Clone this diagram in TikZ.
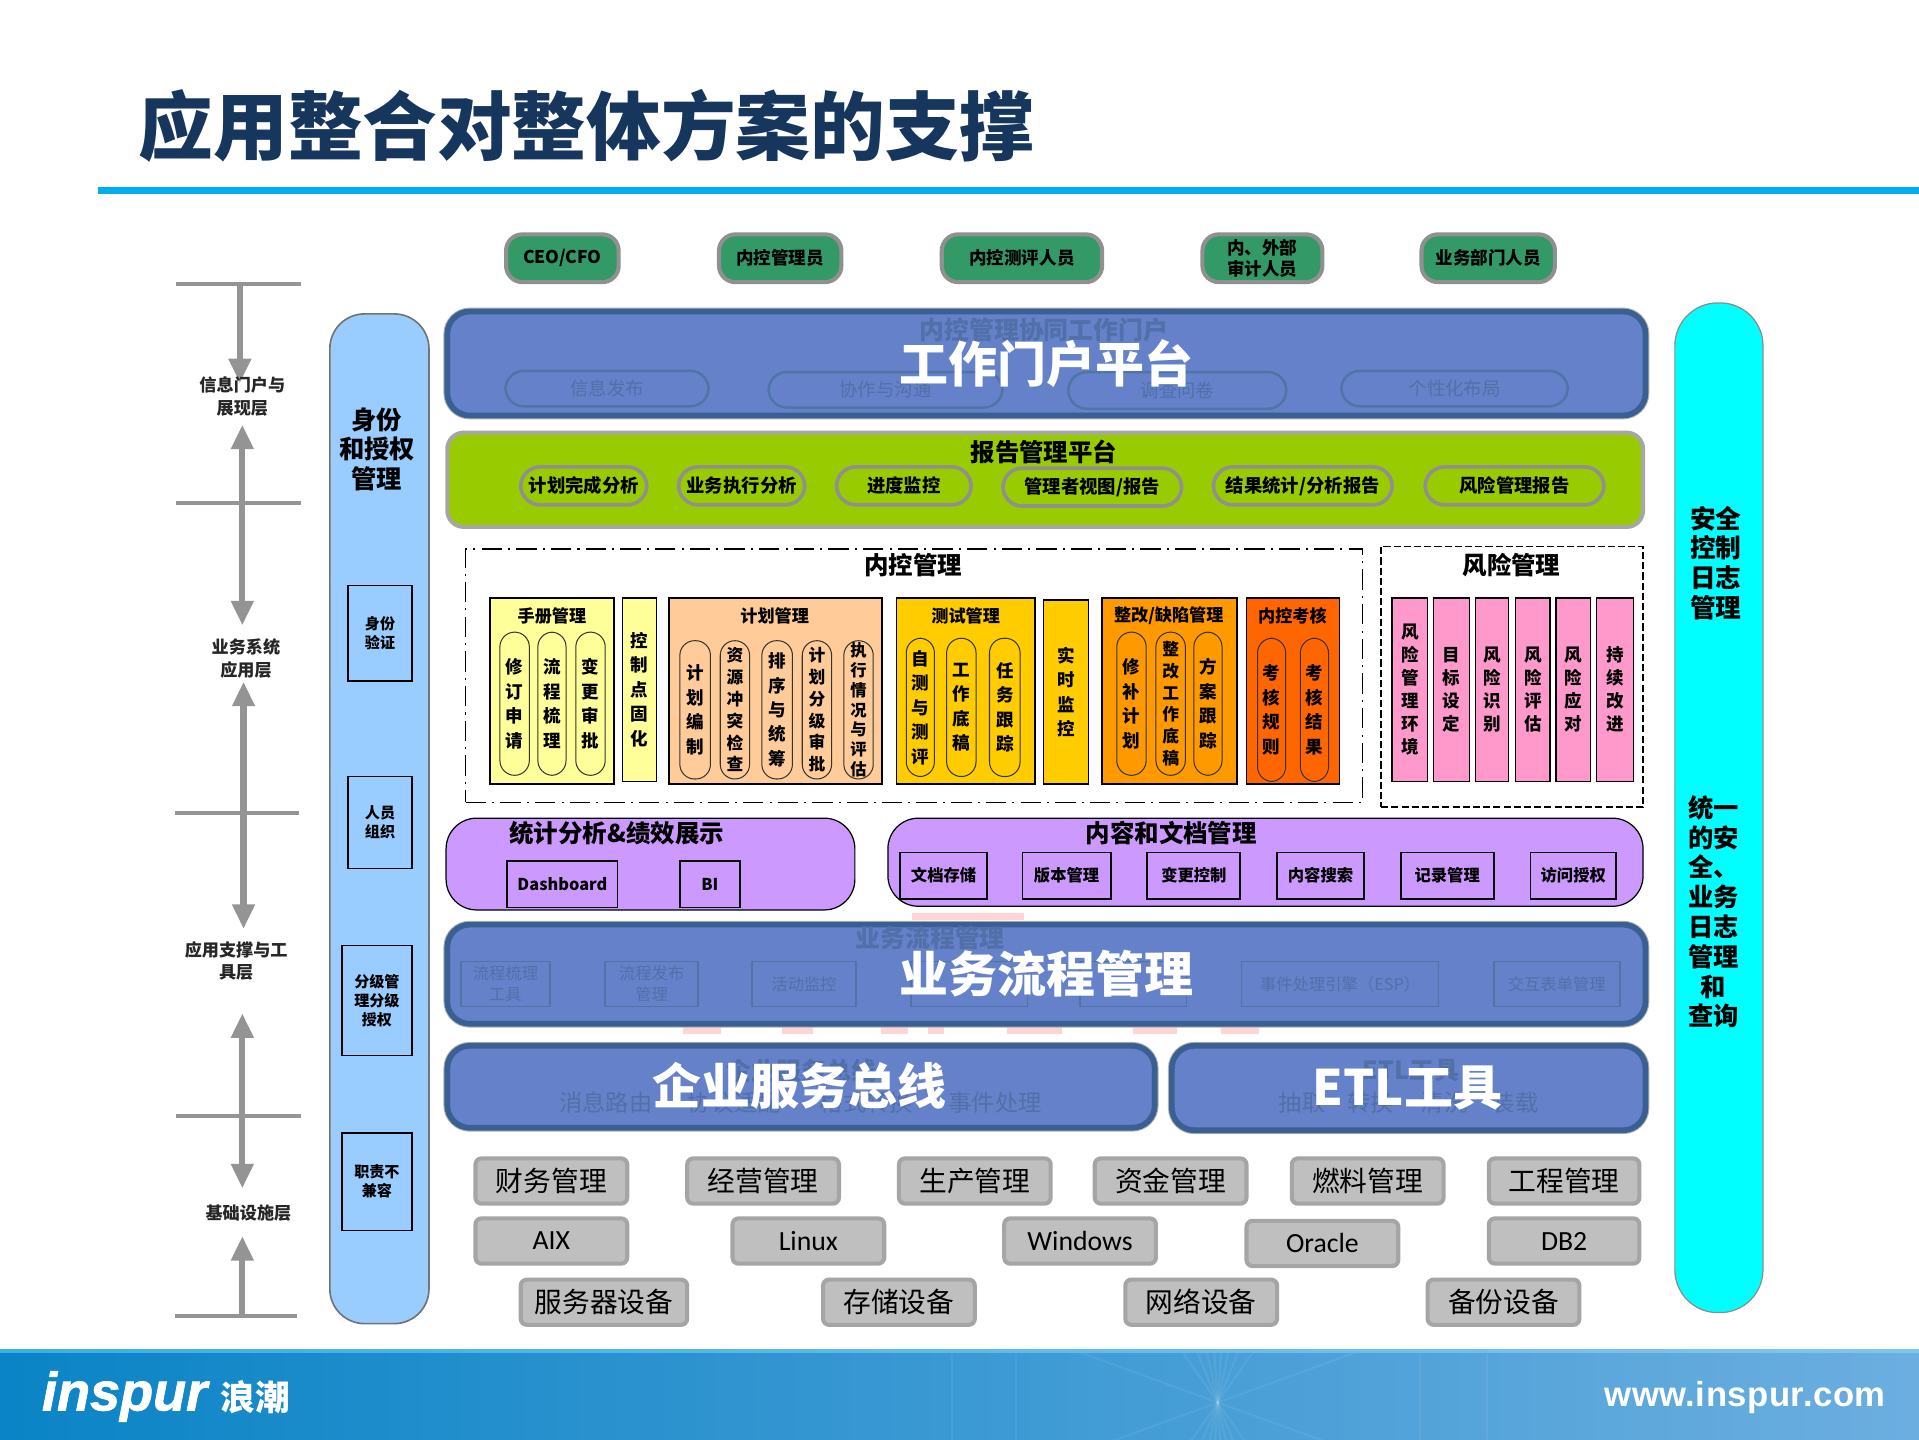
\documentclass[tikz,border=0pt]{standalone}
\usepackage{fontspec}
\setmainfont{Noto Sans CJK SC}
\newfontfamily\carl{Carlito}
\newfontfamily\libs{Liberation Sans}
\newfontfamily\logof[FakeBold=1.4]{Liberation Sans Bold Italic}
\usetikzlibrary{arrows.meta}
\definecolor{navy}{HTML}{17365D}
\definecolor{rule}{HTML}{00AEEF}
\definecolor{bluef}{HTML}{6581C9}
\definecolor{blued}{HTML}{3A5F92}
\definecolor{faint}{HTML}{5170AA}
\definecolor{fainte}{HTML}{4F74A6}
\definecolor{ring}{HTML}{909090}
\definecolor{scaleg}{HTML}{949494}
\definecolor{btn}{HTML}{BFBFBF}
\definecolor{btne}{HTML}{A5A5A5}
\definecolor{actor}{HTML}{339966}
\definecolor{lime}{HTML}{99CC00}
\definecolor{ylw}{HTML}{FFFF99}
\definecolor{peach}{HTML}{FFCC99}
\definecolor{gold}{HTML}{FFCC00}
\definecolor{org}{HTML}{FF9900}
\definecolor{dorg}{HTML}{FF6600}
\definecolor{pnk}{HTML}{FF99CC}
\definecolor{lilac}{HTML}{CC99FF}
\definecolor{skyb}{HTML}{99CCFF}
\definecolor{cyn}{HTML}{00FFFF}
\definecolor{ghost}{HTML}{FFD4D4}
\newcommand{\fs}[2]{\fontsize{#1}{#2}\selectfont}
% \bx[inset]{style}{name}{x0}{y0}{x1}{y1}{text}
\newcommand{\bx}[7][2]{%
  \pgfmathsetmacro\bw{(#5-#3-#1)*0.6}%
  \pgfmathsetmacro\bh{(#6-#4-#1)*0.6}%
  \node[#2,minimum width=\bw pt,minimum height=\bh pt] (#7) at ({(#3+#5)/2},{(#4+#6)/2})}
\tikzset{
  x=0.6pt,y=-0.6pt,
  box/.style={rectangle,inner sep=0pt,align=center},
  actorbox/.style={box,fill=actor,draw=ring,line width=2pt,rounded corners=8pt,font=\bfseries\fs{8.6}{10.6}},
  bigpanel/.style={box,fill=bluef,draw=blued,line width=2.8pt,rounded corners=11pt,
     preaction={draw=ring!70,line width=3.8pt}},
  bigtext/.style={box,text=white,font=\bfseries\fs{24}{28}},
  faintpill/.style={box,draw=fainte,line width=1.2pt,rounded corners=9pt,text=faint,font=\fs{9}{11}},
  faintbox/.style={box,draw=fainte,line width=.8pt,text=faint,font=\fs{8}{10.5}},
  fainttext/.style={box,text=faint,font=\bfseries\fs{12.2}{14}},
  faintlow/.style={box,text=faint,font=\fs{11.4}{14}},
  green panel/.style={box,fill=lime,draw=ring!80,line width=2pt,rounded corners=8pt},
  reppill/.style={box,fill=lime,draw=ring,line width=1.8pt,rounded corners=9.5pt,font=\bfseries\fs{9}{11}},
  boldtitle/.style={box,font=\bfseries\fs{12}{14}},
  dashdot/.style={box,draw=black,line width=.7pt,dash pattern=on 10pt off 3pt on 1pt off 3pt},
  dashbox/.style={box,draw=black,line width=.7pt,dash pattern=on 3.5pt off 1.5pt},
  col/.style={box,draw=black,line width=.8pt,anchor=center},
  stacktxt/.style={font=\bfseries\fs{8.6}{12}},
  subtitle/.style={box,font=\bfseries\fs{8.4}{10}},
  pill/.style={box,draw=black!80,line width=.5pt,rounded corners=7.2pt,stacktxt},
  pillsix/.style={pill,font=\bfseries\fs{8.2}{10.7}},
  pillseven/.style={pill,font=\bfseries\fs{8}{9.7}},
  pinkcol/.style={box,fill=pnk,draw=black,line width=.7pt,font=\bfseries\fs{8.6}{11.3}},
  purple/.style={box,fill=lilac,draw=black,line width=.6pt,rounded corners=15pt},
  pbox/.style={box,draw=black,line width=.9pt,font=\bfseries\fs{8}{10}},
  button/.style={box,fill=btn,draw=btne,line width=2pt,rounded corners=3pt,font=\fs{13.6}{16}},
  idbox/.style={box,draw=black,line width=.8pt,font=\bfseries\fs{7.4}{9.2}},
  sidetitle/.style={box,font=\bfseries\fs{12.4}{14.6}},
  tick/.style={draw=scaleg,line width=2pt},
  scaleline/.style={draw=scaleg,line width=3pt},
  upd/.style={scaleline,-{Triangle[width=10.5pt,length=12pt]}},
  both/.style={scaleline,{Triangle[width=10.5pt,length=12pt]}-{Triangle[width=10.5pt,length=12pt]}},
  lvl/.style={box,text=black!85,font=\bfseries\fs{8.4}{11}},
}
\begin{document}
\begin{tikzpicture}
\useasboundingbox (0,0) rectangle (1568,1175.8);
\fill[white] (0,0) rectangle (1568,1175.8);
% title and rule
\node[box,anchor=west,text=navy,font=\bfseries\fs{36.6}{40}] (title) at (113,103) {应用整合对整体方案的支撑};
\fill[rule] (80,152.5) rectangle (1568,158.5);
% footer
\fill[left color={rgb,255:red,10;green,132;blue,198},middle color={rgb,255:red,26;green,154;blue,214},right color={rgb,255:red,108;green,174;blue,224}] (0,1103) rectangle (1568,1175.8);
\fill[left color={rgb,255:red,58;green,176;blue,232},right color={rgb,255:red,130;green,196;blue,240}] (0,1103) rectangle (1568,1105.5);
\begin{scope}
\clip (0,1106) rectangle (1568,1175.8);
\foreach \ang in {20,55,68,78,86,94,102,112,125,160,200,235,248,258,266,274,282,292,305,340}
  \draw[white,opacity=.07,line width=1pt] (995,1146) -- ++(\ang:190);
\foreach \vx in {778,830,1160,1215}
  \draw[white,opacity=.06,line width=.8pt] (\vx,1106) -- (\vx,1175.8);
\end{scope}
\node[box,anchor=west,text=white,font=\logof\fs{26.5}{30}] (logo) at (34,1141) {inspur};
\node[box,anchor=west,text=white,font=\bfseries\fs{17}{20}] (logocn) at (180,1142) {浪潮};
\node[box,anchor=east,text=white,font=\libs\bfseries\fs{17}{20}] (url) at (1541,1142) {\addfontfeature{LetterSpace=1.5}www.inspur.com};
% actors
\bx[3]{actorbox}{412}{190}{507}{232}{a1} {CEO/CFO};
\bx[3]{actorbox}{586}{190}{689}{232}{a2} {内控管理员};
\bx[3]{actorbox}{768}{190}{902}{232}{a3} {内控测评人员};
\bx[3]{actorbox}{981}{190}{1082}{232}{a4} {内、外部\\审计人员};
\bx[3]{actorbox}{1160}{190}{1272}{232}{a5} {业务部门人员};
% portal
\bx[5]{bigpanel}{363}{252}{1347}{342}{portal} {};
\node[fainttext] (portalt) at (853,270) {内控管理协同工作门户};
\bx[2]{faintpill}{412}{302}{580}{333}{fp1} {信息发布};
\bx[2]{faintpill}{627}{303}{820}{334}{fp2} {协作与沟通};
\bx[2]{faintpill}{872}{303}{1052}{335}{fp3} {调查问卷};
\bx[2]{faintpill}{1095}{302}{1282}{333}{fp4} {个性化布局};
\node[bigtext] (portalb) at (855,297) {工作门户平台};
% report
\bx[3]{green panel}{364}{352}{1344}{432}{report} {};
\node[boldtitle] (reportt) at (853,369) {报告管理平台};
\bx[3]{reppill}{424}{380}{530}{414}{r1} {计划完成分析};
\bx[3]{reppill}{553}{380}{659}{414}{r2} {业务执行分析};
\bx[3]{reppill}{682}{380}{795}{414}{r3} {进度监控};
\bx[3]{reppill}{818}{381}{967}{415}{r4} {管理者视图/报告};
\bx[3]{reppill}{990}{380}{1139}{414}{r5} {结果统计/分析报告};
\bx[3]{reppill}{1163}{380}{1312}{414}{r6} {风险管理报告};
% internal control
\bx[1]{dashdot}{380}{448}{1114}{656}{icbox} {};
\node[boldtitle] (ict) at (746,462) {内控管理};
\bx[1]{col,fill=ylw}{400}{488}{502}{641}{c1} {};
\node[subtitle] (c1t) at (451,503) {手册管理};
\bx[1]{pill}{408}{516}{433}{634}{c1a} {修\\订\\申\\请};
\bx[1]{pill}{439}{516}{463}{634}{c1b} {流\\程\\梳\\理};
\bx[1]{pill}{470}{516}{495}{634}{c1c} {变\\更\\审\\批};
\bx[1]{col,fill=ylw,stacktxt}{508}{488}{537}{639}{c2} {控\\制\\点\\固\\化};
\bx[1]{col,fill=peach}{546}{488}{721}{641}{c3} {};
\node[subtitle] (c3t) at (633,503) {计划管理};
\bx[1]{pill}{555}{523}{581}{637}{c3a} {计\\划\\编\\制};
\bx[1]{pillsix}{588}{523}{613}{637}{c3b} {资\\源\\冲\\突\\检\\查};
\bx[1]{pill}{622}{523}{648}{637}{c3c} {排\\序\\与\\统\\筹};
\bx[1]{pillsix}{655}{523}{680}{637}{c3d} {计\\划\\分\\级\\审\\批};
\bx[1]{pillseven}{689}{523}{714}{637}{c3e} {执\\行\\情\\况\\与\\评\\估};
\bx[1]{col,fill=gold}{732}{488}{846}{641}{c4} {};
\node[subtitle] (c4t) at (789,503) {测试管理};
\bx[1]{pill}{740}{521}{764}{635}{c4a} {自\\测\\与\\测\\评};
\bx[1]{pill}{773}{521}{798}{635}{c4b} {工\\作\\底\\稿};
\bx[1]{pill}{808}{521}{834}{635}{c4c} {任\\务\\跟\\踪};
\bx[1]{col,fill=gold,stacktxt}{852}{490}{890}{641}{c5} {实\\时\\监\\控};
\bx[1]{col,fill=org}{900}{488}{1011}{641}{c6} {};
\node[subtitle] (c6t) at (955,503) {整改/缺陷管理};
\bx[1]{pill}{912}{516}{937}{634}{c6a} {修\\补\\计\\划};
\bx[1]{pillsix}{944}{516}{969}{634}{c6b} {整\\改\\工\\作\\底\\稿};
\bx[1]{pill}{975}{516}{999}{634}{c6c} {方\\案\\跟\\踪};
\bx[1]{col,fill=dorg}{1018}{488}{1095}{641}{c7} {};
\node[subtitle] (c7t) at (1056,503) {内控考核};
\bx[1]{pill}{1027}{521}{1051}{639}{c7a} {考\\核\\规\\则};
\bx[1]{pill}{1062}{521}{1086}{639}{c7b} {考\\核\\结\\果};
% risk
\bx[1]{dashbox}{1128}{446}{1343}{660}{riskbox} {};
\node[boldtitle] (riskt) at (1235,462) {风险管理};
\bx[1]{pinkcol}{1137}{488}{1167}{639}{p1} {风\\险\\管\\理\\环\\境};
\bx[1]{pinkcol}{1171}{488}{1201}{639}{p2} {目\\标\\设\\定};
\bx[1]{pinkcol}{1205}{488}{1233}{639}{p3} {风\\险\\识\\别};
\bx[1]{pinkcol}{1238}{488}{1267}{639}{p4} {风\\险\\评\\估};
\bx[1]{pinkcol}{1271}{488}{1300}{639}{p5} {风\\险\\应\\对};
\bx[1]{pinkcol}{1304}{488}{1335}{639}{p6} {持\\续\\改\\进};
% purple
\bx[1]{purple}{364}{668}{699}{744}{st} {};
\node[boldtitle] (stt) at (504,681) {统计分析\&绩效展示};
\bx[1]{pbox}{414}{703}{505}{742}{db} {Dashboard};
\bx[1]{pbox}{555}{703}{605}{742}{bi} {BI};
\bx[1]{purple}{725}{668}{1343}{741}{cm} {};
\node[boldtitle] (cmt) at (957,681) {内容和文档管理};
\bx[1]{pbox}{735}{696}{807}{735}{d1} {文档存储};
\bx[1]{pbox}{835}{696}{908}{735}{d2} {版本管理};
\bx[1]{pbox}{937}{696}{1014}{735}{d3} {变更控制};
\bx[1]{pbox}{1043}{696}{1115}{735}{d4} {内容搜索};
\bx[1]{pbox}{1144}{696}{1221}{735}{d5} {记录管理};
\bx[1]{pbox}{1250}{696}{1321}{735}{d6} {访问授权};
% ghost marks behind business process panel
\fill[ghost] (745,746) rectangle (837,752);
\foreach \gx/\gy in {558/589,639/664,720/742,758/771,823/868,926/962,998/1029}
  \fill[ghost] (\gx,836) rectangle (\gy,844.5);
% business process
\bx[5]{bigpanel}{363}{753}{1347}{839}{bp} {};
\node[fainttext] (bpt) at (760,766) {业务流程管理};
\bx[1]{faintbox}{376}{785}{450}{823}{b1} {流程梳理\\工具};
\bx[1]{faintbox}{494}{785}{571}{823}{b2} {流程发布\\管理};
\bx[1]{faintbox}{614}{785}{700}{823}{b3} {活动监控};
\bx[1]{faintbox}{744}{785}{840}{823}{b4} {};
\bx[1]{faintbox}{882}{785}{970}{823}{b5} {};
\bx[1]{faintbox}{1014}{785}{1176}{823}{b6} {事件处理引擎（ESP）};
\bx[1]{faintbox}{1220}{785}{1324}{823}{b7} {交互表单管理};
\node[bigtext] (bpb) at (855,796) {业务流程管理};
% ESB, ETL
\bx[5]{bigpanel}{363}{852}{946}{924}{esb} {};
\node[fainttext] (esbt) at (655,875) {企业服务总线};
\node[faintlow] (e1) at (495,901) {消息路由};
\node[faintlow] (e2) at (600,901) {协议适配};
\node[faintlow] (e3) at (708,901) {格式转换};
\node[faintlow] (e4) at (813,901) {事件处理};
\node[bigtext] (esbb) at (653,887) {企业服务总线};
\bx[5]{bigpanel}{955}{852}{1347}{926}{etl} {};
\node[fainttext] (etlt) at (1153,875) {ETL工具};
\node[faintlow] (l1) at (1064,901) {抽取};
\node[faintlow] (l2) at (1120,901) {转换};
\node[faintlow] (l3) at (1180,901) {清洗};
\node[faintlow] (l4) at (1238,901) {装载};
\node[bigtext] (etlb) at (1150,889) {ETL工具};
% buttons
\bx[3]{button}{387}{945}{514}{985}{g1} {财务管理};
\bx[3]{button}{560}{945}{687}{985}{g2} {经营管理};
\bx[3]{button}{733}{945}{860}{985}{g3} {生产管理};
\bx[3]{button}{893}{945}{1020}{985}{g4} {资金管理};
\bx[3]{button}{1054}{945}{1181}{985}{g5} {燃料管理};
\bx[3]{button}{1215}{945}{1341}{985}{g6} {工程管理};
\bx[3]{button,font=\carl\fs{13.6}{16}}{387}{994}{514}{1034}{o1} {AIX};
\bx[3]{button,font=\carl\fs{13.6}{16}}{597}{994}{724}{1034}{o2} {Linux};
\bx[3]{button,font=\carl\fs{13.6}{16}}{819}{994}{946}{1034}{o3} {Windows};
\bx[3]{button,font=\carl\fs{13.6}{16}}{1017}{996}{1144}{1036}{o4} {Oracle};
\bx[3]{button,font=\carl\fs{13.6}{16}}{1215}{994}{1341}{1034}{o5} {DB2};
\bx[3]{button}{424}{1044}{563}{1084}{h1} {服务器设备};
\bx[3]{button}{671}{1044}{798}{1084}{h2} {存储设备};
\bx[3]{button}{918}{1044}{1045}{1084}{h3} {网络设备};
\bx[3]{button}{1165}{1044}{1292}{1084}{h4} {备份设备};
% identity column
\bx[1]{box,fill=skyb,draw=black!55,line width=.8pt,rounded corners=17pt}{269}{256}{351}{1082}{idc} {};
\node[sidetitle] (idt) at (308,367) {身份\\和授权\\管理};
\bx[1]{idbox}{284}{478}{337}{557}{i1} {身份\\验证};
\bx[1]{idbox}{284}{634}{337}{710}{i2} {人员\\组织};
\bx[1]{idbox}{279}{772}{337}{863}{i3} {分级管\\理分级\\授权};
\bx[1]{idbox}{279}{925}{337}{1006}{i4} {职责不\\兼容};
% security column
\bx[1]{box,fill=cyn,draw=black!45,line width=.6pt,rounded corners=21pt}{1368}{247}{1441}{1073}{sec} {};
\node[box,font=\bfseries\fs{12.6}{14.6}] (sect) at (1402,460) {安全\\控制\\日志\\管理};
\node[box,font=\bfseries\fs{12.4}{14.6}] (secb) at (1400,745) {统一\\的安\\全、\\业务\\日志\\管理\\和\\查询};
% left scale
\coordinate (s1l) at (144,232); \coordinate (s1r) at (246,232);
\coordinate (s2l) at (144,411); \coordinate (s2r) at (246,411);
\coordinate (s3l) at (143,664); \coordinate (s3r) at (244,664);
\coordinate (s4l) at (144,912); \coordinate (s4r) at (246,912);
\coordinate (s5l) at (143,1075); \coordinate (s5r) at (243,1075);
\draw[tick] (s1l) -- (s1r);
\draw[tick] (s2l) -- (s2r);
\draw[tick] (s3l) -- (s3r);
\draw[tick] (s4l) -- (s4r);
\draw[tick] (s5l) -- (s5r);
\coordinate (a1s) at (196,232); \coordinate (a1e) at (196,313);
\coordinate (a2s) at (198,347); \coordinate (a2e) at (198,511);
\coordinate (a3s) at (199,557); \coordinate (a3e) at (199,759);
\coordinate (a4s) at (198,828); \coordinate (a4e) at (198,971);
\coordinate (a5s) at (198,1075); \coordinate (a5e) at (198,1010);
\draw[upd] (a1s) -- (a1e);
\draw[both] (a2s) -- (a2e);
\draw[both] (a3s) -- (a3e);
\draw[both] (a4s) -- (a4e);
\draw[upd] (a5s) -- (a5e);
\node[lvl] (v1) at (198,324) {信息门户与\\展现层};
\node[lvl] (v2) at (201,538) {业务系统\\应用层};
\node[lvl] (v3) at (193,785) {应用支撑与工\\具层};
\node[lvl] (v4) at (203,991) {基础设施层};
\end{tikzpicture}
\end{document}
